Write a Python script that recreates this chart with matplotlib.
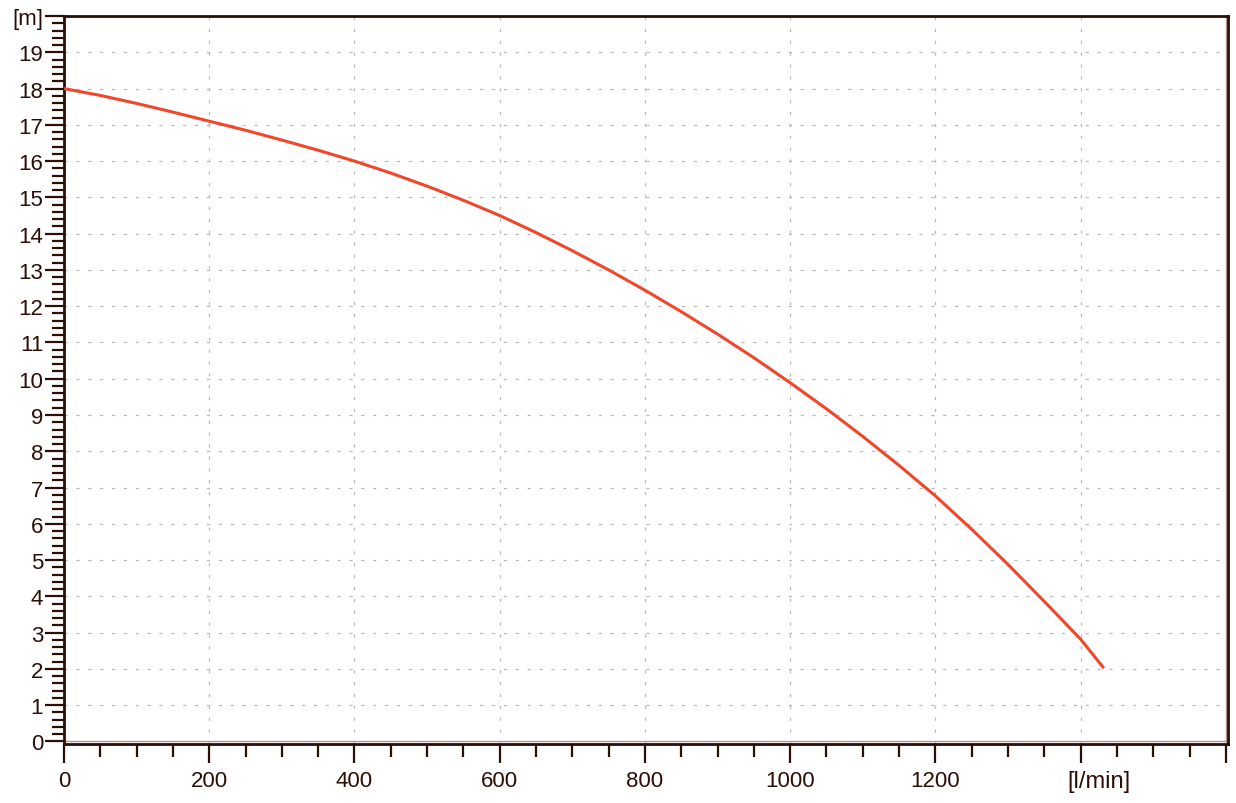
import matplotlib
matplotlib.use("Agg")
import matplotlib.pyplot as plt
import matplotlib.transforms as mtransforms
import numpy as np

flow = [0, 50, 100, 150, 200, 250, 300, 350, 400, 450, 500, 550, 600, 650, 700,
        750, 800, 850, 900, 950, 1000, 1050, 1100, 1150, 1200, 1250, 1300, 1350, 1400, 1432]
head = [18.0, 17.81, 17.59, 17.35, 17.10, 16.85, 16.58, 16.30, 16.00, 15.67, 15.31, 14.92, 14.50,
        14.03, 13.53, 13.00, 12.44, 11.85, 11.23, 10.58, 9.89, 9.17, 8.41, 7.61, 6.77, 5.85,
        4.88, 3.86, 2.82, 2.02]

x_major = [0, 200, 400, 600, 800, 1000, 1200, 1400, 1600]
x_labels = ["0", "200", "400", "600", "800", "1000", "1200", "[l/min]", ""]
y_major = list(range(0, 21))
y_labels = [str(v) for v in range(0, 20)] + ["[m]"]

plt.rcParams['font.family'] = ['Liberation Sans', 'DejaVu Sans']
dark = "#2b0e06"

fig = plt.figure(figsize=(12.36, 8.04), dpi=100)
ax = fig.add_axes([64/1236, (804-745)/804, (1228-64)/1236, (745-17)/804])

ax.plot(flow, head, color="#f0462a", lw=2.2, solid_capstyle="butt",
        solid_joinstyle="round", zorder=3)

ax.set_xlim(0, 1603)
ax.set_ylim(-0.07, 20.0)

ax.set_xticks(x_major)
ax.set_xticklabels(x_labels)
ax.set_xticks(np.arange(0, 1601, 50), minor=True)
ax.set_yticks(y_major)
ax.set_yticklabels(y_labels)
ax.set_yticks(np.arange(0, 20.01, 0.2), minor=True)

ax.tick_params(axis="both", which="major", length=14, width=1.6, color=dark,
               labelcolor=dark, labelsize=16, direction="out")
ax.tick_params(axis="both", which="minor", length=9, width=1.6, color=dark, direction="out")
ax.tick_params(axis="y", which="major", pad=1)
ax.tick_params(axis="x", which="major", pad=5)
shift = mtransforms.ScaledTranslation(0.18, 0, fig.dpi_scale_trans)
for lbl in ax.get_xticklabels():
    if lbl.get_text() == "[l/min]":
        lbl.set_fontsize(17)
        lbl.set_transform(lbl.get_transform() + shift)

for sp in ax.spines.values():
    sp.set_color(dark)
    sp.set_linewidth(2.0)

# grid
for yv in range(1, 20):
    ax.axhline(yv, color="#b8b8b8", lw=0.9, ls=(0, (2.5, 7)), zorder=1)
for xv in range(200, 1600, 200):
    ax.axvline(xv, color="#b8b8b8", lw=0.9, ls=(0, (2.5, 7)), zorder=1)

# inner thin frame lines
ax.axhline(0, color="#a89890", lw=1.0, zorder=2)
ax.axvline(1600, color="#a89890", lw=1.0, zorder=2)

fig.savefig("out.png", dpi=100)
